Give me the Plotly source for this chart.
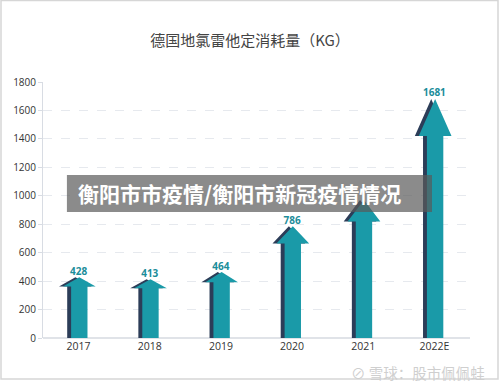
import plotly.graph_objects as go

categories = ["2017", "2018", "2019", "2020", "2021", "2022E"]
values = [428, 413, 464, 786, 970, 1681]
labels = ["428", "413", "464", "786", "", "1681"]
y_ticks = [0, 200, 400, 600, 800, 1000, 1200, 1400, 1600, 1800]

TEAL = "#1a9aa8"
DARK = "#2c3d58"
LABEL = "#1b8d9a"

fig = go.Figure()

sw = 0.115   # shaft half width (category units)
hw = 0.23    # head half width
shift = 0.045  # side-face offset


def arrow(c, v, dx=0.0):
    h = 0.155 * v
    xs = [c - sw + dx, c - sw + dx, c - hw + dx, c + dx, c + hw + dx, c + sw + dx, c + sw + dx, c - sw + dx]
    ys = [0, v - h, v - h, v, v - h, v - h, 0, 0]
    return xs, ys


for i, v in enumerate(values):
    xs, ys = arrow(i, v, -shift)
    fig.add_trace(go.Scatter(x=xs, y=ys, fill="toself", fillcolor=DARK, mode="lines",
                             line=dict(width=0, color=DARK), hoverinfo="skip", showlegend=False))
    xs, ys = arrow(i + 0.01, v)
    fig.add_trace(go.Scatter(x=xs, y=ys, fill="toself", fillcolor=TEAL, mode="lines",
                             line=dict(width=0, color=TEAL), hoverinfo="skip", showlegend=False))

fig.add_trace(go.Scatter(
    x=list(range(len(categories))), y=values, mode="text", text=labels,
    textposition="top center",
    textfont=dict(size=10, color=LABEL, family="Open Sans", weight="bold"),
    showlegend=False, hoverinfo="skip", cliponaxis=False))

fig.update_layout(
    width=500, height=387,
    margin=dict(l=43, r=30, t=82, b=49),
    paper_bgcolor="white", plot_bgcolor="white",
    title=dict(text="德国地氯雷他定消耗量（KG）", x=0.5, xanchor="center",
               y=1 - 41 / 387, yanchor="middle",
               font=dict(size=15, color="#444444", family="Noto Sans CJK SC")),
    xaxis=dict(range=[-0.5, 5.5], tickvals=list(range(len(categories))), ticktext=categories,
               showgrid=False, zeroline=False, showline=False, ticks="",
               tickfont=dict(size=10.5, color="#333333", family="Open Sans")),
    yaxis=dict(range=[0, 1800], tickvals=y_ticks, showgrid=True, gridcolor="#e6e9ee",
               griddash="dash", gridwidth=1, zeroline=True, zerolinecolor="#e0e3e8",
               showline=True, linecolor="#d8dce3", ticks="outside", ticklen=4,
               tickcolor="#d8dce3",
               tickfont=dict(size=10, color="#333333", family="Open Sans")),
    font=dict(family="Open Sans"),
)

# overlay banner
fig.add_shape(type="rect", xref="paper", yref="paper", x0=0.056, x1=0.911, y0=0.492, y1=0.637,
              fillcolor="rgba(90,90,90,0.7)", line=dict(width=0), layer="above")
fig.add_annotation(text="衡阳市市疫情/衡阳市新冠疫情情况", xref="paper", yref="paper",
                   x=0.078, y=0.566, xanchor="left", yanchor="middle", showarrow=False,
                   font=dict(size=21, color="white", family="Noto Sans CJK SC", weight="bold"))

# watermark
fig.add_annotation(text="⊘ 雪球：股市佩佩蛙", xref="paper", yref="paper",
                   x=(487 - 43) / 427, y=(338 - 372) / 256, xanchor="right", yanchor="middle",
                   showarrow=False,
                   font=dict(size=14.5, color="#cfcfcf", family="Noto Sans CJK SC"))

# outer frame
fig.add_shape(type="rect", xref="paper", yref="paper",
              x0=(1 - 43) / 427, x1=(498 - 43) / 427, y0=(338 - 379) / 256, y1=(338 - 0.5) / 256,
              line=dict(color="#d6d6d6", width=1.5), fillcolor="rgba(0,0,0,0)", layer="above")

fig.write_html("out.html", config={"displayModeBar": False},
               post_script="document.body.style.margin='0';document.body.style.padding='0';")
